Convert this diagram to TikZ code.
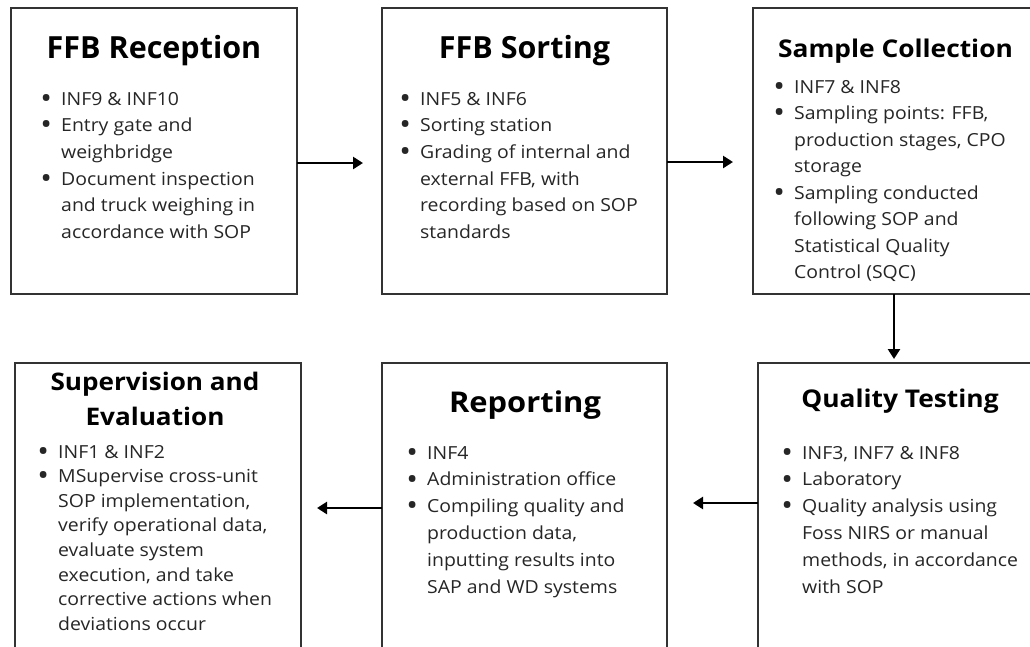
\documentclass[tikz,border=0pt]{standalone}
\usepackage{fontspec}
\setmainfont{Open Sans}[FakeStretch=1.08]
\newfontfamily\plainos{Open Sans}
\usetikzlibrary{arrows.meta}
\newcommand{\bul}{\llap{\makebox[30pt]{\raisebox{-3.2pt}{\scalebox{1.6}{\textbullet}}}}}
\tikzset{
  box/.style={draw=black!80, line width=1.6pt, anchor=north west, outer sep=0pt, inner sep=0pt, minimum height=286pt},
  ttl/.style={anchor=base, inner sep=0pt, text=black},
  body/.style={anchor=base west, inner sep=0pt, text=black!85},
  arr/.style={line width=2.8pt, -{Triangle[width=12pt,length=10pt]}}
}
\begin{document}
\begin{tikzpicture}[x=1pt,y=-1pt]
\useasboundingbox (0,0) rectangle (1030,646);
\clip (0,0) rectangle (1030,646);
\fill[white] (0,0) rectangle (1030,646);
% boxes
\node[box, minimum width=286pt] (r1) at (11,8) {};
\node[box, minimum width=285pt] (r2) at (382,8) {};
\node[box, minimum width=286pt] (r3) at (753,8) {};
\node[box, minimum width=286pt] (r4) at (15,363) {};
\node[box, minimum width=285pt] (r5) at (382,363) {};
\node[box, minimum width=286pt] (r6) at (758,363) {};
% titles
\node[ttl, font=\plainos\bfseries\fontsize{30.5}{36}\selectfont] (t1) at (154,58) {FFB Reception};
\node[ttl, font=\plainos\bfseries\fontsize{30.5}{36}\selectfont] (t2) at (524.5,58) {FFB Sorting};
\node[ttl, font=\bfseries\fontsize{24.4}{30}\selectfont] (t3) at (895.5,57) {Sample Collection};
\node[ttl, font=\bfseries\fontsize{24.2}{30}\selectfont] (t4a) at (155,390) {Supervision and};
\node[ttl, font=\bfseries\fontsize{24.2}{30}\selectfont] (t4b) at (155,425) {Evaluation};
\node[ttl, font=\bfseries\fontsize{28.6}{34}\selectfont] (t5) at (525,412) {Reporting};
\node[ttl, font=\bfseries\fontsize{24.4}{30}\selectfont] (t6) at (900,407) {Quality Testing};
% bodies
\node[body, font=\fontsize{18}{26.7}\selectfont] (b1) at (61,105) {\begin{tabular}[t]{@{}l@{}}
\bul INF9 \& INF10\\
\bul Entry gate and\\
weighbridge\\
\bul Document inspection\\
and truck weighing in\\
accordance with SOP
\end{tabular}};
\node[body, font=\fontsize{18}{26.7}\selectfont] (b2) at (420,105) {\begin{tabular}[t]{@{}l@{}}
\bul INF5 \& INF6\\
\bul Sorting station\\
\bul Grading of internal and\\
external FFB, with\\
recording based on SOP\\
standards
\end{tabular}};
\node[body, font=\fontsize{18}{26.5}\selectfont] (b3) at (794,93) {\begin{tabular}[t]{@{}l@{}}
\bul INF7 \& INF8\\
\bul Sampling points: FFB,\\
production stages, CPO\\
storage\\
\bul Sampling conducted\\
following SOP and\\
Statistical Quality\\
Control (SQC)
\end{tabular}};
\node[body, font=\fontsize{18}{24.6}\selectfont] (b4) at (58,458) {\begin{tabular}[t]{@{}l@{}}
\bul INF1 \& INF2\\
\bul MSupervise cross-unit\\
SOP implementation,\\
verify operational data,\\
evaluate system\\
execution, and take\\
corrective actions when\\
deviations occur
\end{tabular}};
\node[body, font=\fontsize{18}{26.8}\selectfont] (b5) at (427,459) {\begin{tabular}[t]{@{}l@{}}
\bul INF4\\
\bul Administration office\\
\bul Compiling quality and\\
production data,\\
inputting results into\\
SAP and WD systems
\end{tabular}};
\node[body, font=\fontsize{18}{26.8}\selectfont] (b6) at (802,459) {\begin{tabular}[t]{@{}l@{}}
\bul INF3, INF7 \& INF8\\
\bul Laboratory\\
\bul Quality analysis using\\
Foss NIRS or manual\\
methods, in accordance\\
with SOP
\end{tabular}};
% arrows
\draw[arr, shorten >=19pt] ([yshift=-12pt]r1.east) -- ([yshift=-12pt]r2.west);
\draw[arr, shorten >=20pt] ([yshift=-11pt]r2.east) -- ([yshift=-11pt]r3.west);
\draw[arr, shorten >=4pt] ([xshift=-2pt]r3.south) -- ([xshift=-2pt]r3.south |- r6.north);
\draw[arr, shorten >=26pt] ([yshift=3pt]r6.west) -- ([yshift=3pt]r5.east);
\draw[arr, shorten >=16pt] ([yshift=-2pt]r5.west) -- ([yshift=-2pt]r4.east);
\end{tikzpicture}
\end{document}
